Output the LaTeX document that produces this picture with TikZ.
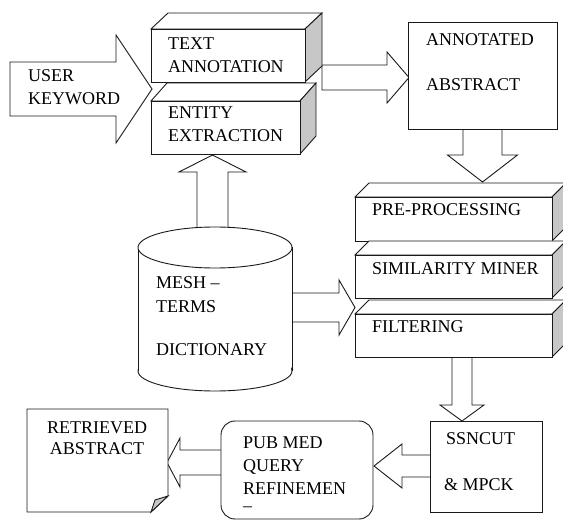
\documentclass[tikz,border=0pt]{standalone}
\usepackage{fontspec}
\newfontfamily\tnrfont{LiberationSerif-Regular.ttf}
\usetikzlibrary{calc}
\tikzset{
  ln/.style={draw=black!90, line width=0.9pt, line join=miter},
  lbl/.style={font=\tnrfont\fontsize{18}{22}\selectfont, inner sep=0pt, text=black},
  face/.style={ln, fill=white},
  sideface/.style={ln, fill=black!22},
  barrowstyle/.style={ln, fill=white},
}
% tail, tip, body half width, head half width, head length
\newcommand\blockarrow[5]{%
  \coordinate (bhX) at ($(#2)!#5!(#1)$);
  \draw[barrowstyle] ($(#1)!#3!90:(#2)$) -- ($(bhX)!#3!90:(#2)$) -- ($(bhX)!#4!90:(#2)$)
    -- (#2) -- ($(bhX)!#4!-90:(#2)$) -- ($(bhX)!#3!-90:(#2)$) -- ($(#1)!#3!-90:(#2)$) -- cycle;
}
% name, x1, y1, x2, y2, dx, dy
\newcommand\cubebox[7]{%
  \draw[face] (#2,#3) -- ({#2+#6},{#3-#7}) -- ({#4+#6},{#3-#7}) -- (#4,#3) -- cycle;
  \draw[sideface] (#4,#3) -- ({#4+#6},{#3-#7}) -- ({#4+#6},{#5-#7}) -- (#4,#5) -- cycle;
  \node[face, inner sep=0pt, outer sep=0pt, anchor=north west,
        minimum width={(#4-#2)*1pt}, minimum height={(#5-#3)*1pt}] (#1) at (#2,#3) {};
}
\begin{document}
\begin{tikzpicture}[x=1pt, y=-1pt]
\useasboundingbox (0,0) rectangle (563,521);

% ---- connector end points ----
\coordinate (ukT) at (10,89);   \coordinate (ukH) at (152,89);
\coordinate (taT) at (322,77.5); \coordinate (taH) at (409,77.5);
\coordinate (aaT) at (482.5,127); \coordinate (aaH) at (482.5,182);
\coordinate (cyT) at (212.5,230); \coordinate (cyH) at (212.5,155);
\coordinate (cfT) at (288,307.5); \coordinate (cfH) at (355,307.5);
\coordinate (fsT) at (462,355); \coordinate (fsH) at (462,421);
\coordinate (spT) at (432,466); \coordinate (spH) at (374,466);
\coordinate (prT) at (223,462.5); \coordinate (prH) at (167,462.5);

% ---- block arrows ----
\blockarrow{ukT}{ukH}{27pt}{54pt}{36pt}
\blockarrow{taT}{taH}{12.5pt}{25.5pt}{22pt}
\blockarrow{aaT}{aaH}{19.5pt}{35pt}{27pt}
\blockarrow{cyT}{cyH}{15.5pt}{33.5pt}{17pt}
\blockarrow{cfT}{cfH}{14.5pt}{27.5pt}{16pt}
\blockarrow{fsT}{fsH}{10pt}{22pt}{16pt}
\blockarrow{spT}{spH}{11pt}{22pt}{28pt}
\blockarrow{prT}{prH}{12.5pt}{24.5pt}{13pt}

% ---- 3D boxes ----
\cubebox{ee}{151}{101}{300}{154}{16}{18}
\cubebox{ta}{151}{29}{305}{82}{17}{16}
\cubebox{pp}{355}{197}{552}{241}{14}{14}
\cubebox{sm}{355}{255}{552}{298}{14}{14}
\cubebox{fl}{355}{314}{552}{357}{14}{14}

% ---- annotated abstract ----
\node[face, inner sep=0pt, outer sep=0pt, anchor=north west, minimum width=149pt, minimum height=107pt] (aa) at (408,22) {};

% ---- cylinder ----
\fill[white] (138,247.5) rectangle (292,371);
\draw[face] (215,371) ellipse [x radius=77pt, y radius=20pt];
\fill[white] (138.6,247.5) rectangle (291.4,371);
\draw[ln] (138,247.5) -- (138,371) (292,247.5) -- (292,371);
\draw[face] (215,247.5) ellipse [x radius=77pt, y radius=20.5pt];
\coordinate (cyl) at (215,310);

% ---- SSNCUT ----
\node[face, inner sep=0pt, outer sep=0pt, anchor=north west, minimum width=112pt, minimum height=91pt] (ss) at (430,421) {};

% ---- PubMed rounded ----
\node[face, rounded corners=14pt, inner sep=0pt, outer sep=0pt, anchor=north west, minimum width=152pt, minimum height=98pt] (pm) at (221,421) {};

% ---- retrieved abstract (note) ----
\draw[face] (27,409) -- (168,409) -- (168,496) -- (151,512) -- (27,512) -- cycle;
\draw[sideface] (151,512) -- (155,500) -- (168,496) -- cycle;
\coordinate (ra) at (97,460);

% ---- texts ----
\node[lbl, anchor=base west] (uk1) at (28,82) {USER};
\node[lbl, anchor=base west] (uk2) at (28,105) {KEYWORD};
\node[lbl, anchor=base west] (ta1) at (168,50) {TEXT};
\node[lbl, anchor=base west] (ta2) at (168,73) {ANNOTATION};
\node[lbl, anchor=base west] (ee1) at (168,119) {ENTITY};
\node[lbl, anchor=base west] (ee2) at (168,142) {EXTRACTION};
\node[lbl, anchor=base west] (aa1) at (426,46) {ANNOTATED};
\node[lbl, anchor=base west] (aa2) at (426,91) {ABSTRACT};
\node[lbl, anchor=base west] (pp1) at (372,216) {PRE-PROCESSING};
\node[lbl, anchor=base west] (sm1) at (372,275) {SIMILARITY MINER};
\node[lbl, anchor=base west] (fl1) at (372,333) {FILTERING};
\node[lbl, anchor=base west] (cy1) at (156,289) {MESH –};
\node[lbl, anchor=base west] (cy2) at (156,313) {TERMS};
\node[lbl, anchor=base west] (cy3) at (156,356) {DICTIONARY};
\node[lbl, anchor=base west] (ss1) at (446,445) {SSNCUT};
\node[lbl, anchor=base west] (ss2) at (444,491) {\& MPCK};
\node[lbl, anchor=base west] (pm1) at (243,449) {PUB MED};
\node[lbl, anchor=base west] (pm2) at (243,472) {QUERY};
\node[lbl, anchor=base west] (pm3) at (243,495) {REFINEMEN};
\node[lbl, anchor=base west] (pm4) at (243,512) {–};
\node[lbl, anchor=base] (ra1) at (97,434) {RETRIEVED};
\node[lbl, anchor=base] (ra2) at (97,455) {ABSTRACT};
\end{tikzpicture}
\end{document}
